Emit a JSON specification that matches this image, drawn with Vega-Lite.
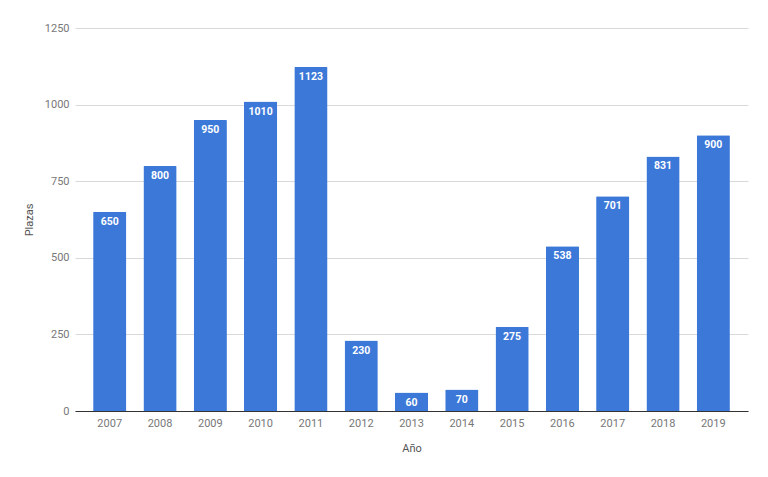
{
  "$schema": "https://vega.github.io/schema/vega-lite/v6.json",
  "autosize": "none",
  "padding": {"left": 75, "top": 28, "right": 20, "bottom": 66},
  "width": 673,
  "height": 383,
  "background": "white",
  "config": {
    "view": {"stroke": null},
    "font": "Roboto",
    "axis": {"labelFont": "Roboto", "titleFont": "Roboto", "labelColor": "#777", "titleColor": "#555", "labelFontSize": 11, "titleFontSize": 11, "titleFontWeight": "normal"}
  },
  "data": {"values": [
    {"year": "2007", "plazas": 650},
    {"year": "2008", "plazas": 800},
    {"year": "2009", "plazas": 950},
    {"year": "2010", "plazas": 1010},
    {"year": "2011", "plazas": 1123},
    {"year": "2012", "plazas": 230},
    {"year": "2013", "plazas": 60},
    {"year": "2014", "plazas": 70},
    {"year": "2015", "plazas": 275},
    {"year": "2016", "plazas": 538},
    {"year": "2017", "plazas": 701},
    {"year": "2018", "plazas": 831},
    {"year": "2019", "plazas": 900}
  ]},
  "encoding": {
    "x": {"field": "year", "type": "ordinal", "title": "Año",
      "scale": {"paddingInner": 0.34, "paddingOuter": 0.36},
      "axis": {"labelAngle": 0, "ticks": false, "domain": true, "domainColor": "#333", "domainWidth": 1, "labelPadding": 6, "titlePadding": 14}},
    "y": {"field": "plazas", "type": "quantitative", "title": "Plazas",
      "scale": {"domain": [0, 1250], "nice": false},
      "axis": {"values": [0, 250, 500, 750, 1000, 1250], "format": "d", "ticks": false, "domain": false, "gridColor": "#d9d9d9", "labelPadding": 6, "titlePadding": 10}}
  },
  "layer": [
    {"mark": {"type": "bar", "color": "#3c78d8", "cornerRadiusTopLeft": 1, "cornerRadiusTopRight": 1}},
    {"mark": {"type": "text", "color": "white", "fontWeight": "bold", "fontSize": 10.5, "baseline": "top", "dy": 5, "font": "Roboto"},
     "encoding": {"text": {"field": "plazas", "type": "quantitative", "format": "d"}}}
  ]
}
